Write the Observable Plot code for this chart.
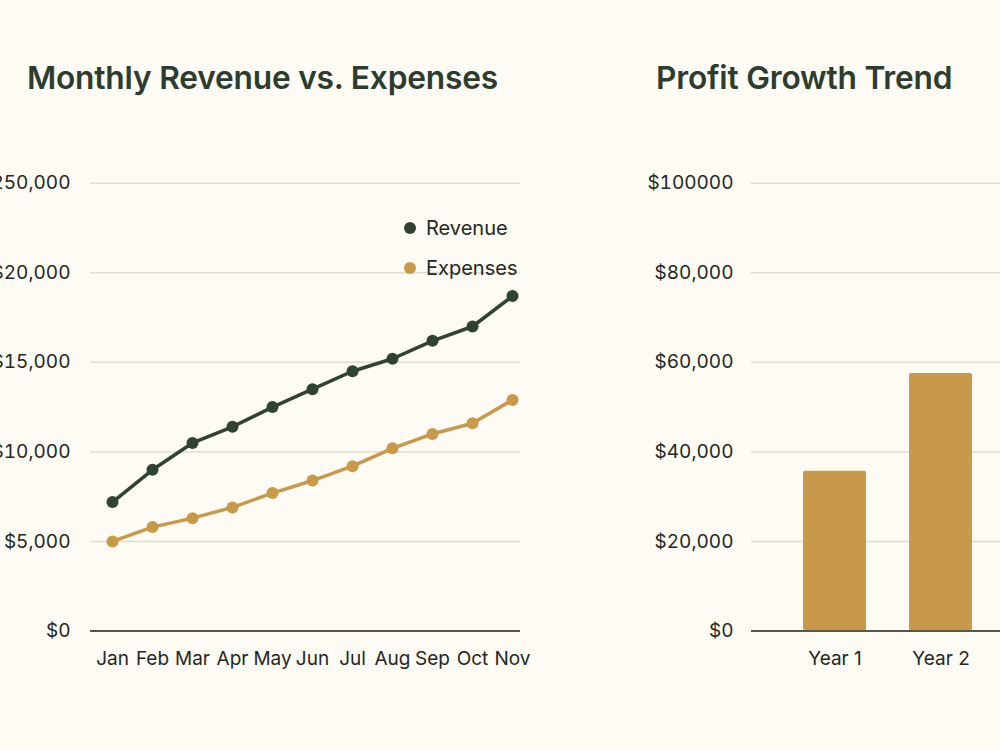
<!DOCTYPE html>
<html>
<head>
<meta charset="utf-8">
<script src="https://cdn.jsdelivr.net/npm/d3@7"></script>
<script src="https://cdn.jsdelivr.net/npm/@observablehq/plot@0.6"></script>
<style>
  html, body { margin: 0; padding: 0; background: #fdfbf3; }
  #page { position: relative; width: 1000px; height: 750px; overflow: hidden; background: #fdfbf3; font-family: Inter, "Noto Sans", sans-serif; }
  .title { position: absolute; font-size: 31.7px; font-weight: 600; color: #2c3d2f; line-height: 1; white-space: nowrap; letter-spacing: -0.2px; }
  .panel { position: absolute; top: 0; }
  .panel svg { max-width: none; }
  #legend { position: absolute; left: 404px; top: 208px; font-size: 20px; color: #232823; }
  #legend .row { display: flex; align-items: center; height: 40px; }
  #legend .dot { width: 12px; height: 12px; border-radius: 50%; margin-right: 10px; }
</style>
</head>
<body>
<div id="page">
  <div class="title" style="left:27px; top:62px;">Monthly Revenue vs. Expenses</div>
  <div class="title" style="left:656px; top:62px;">Profit Growth Trend</div>
  <div class="panel" id="left" style="left:0px; width:540px;"></div>
  <div class="panel" id="right" style="left:600px; width:500px;"></div>
  <div id="legend"></div>
</div>
<script>
// Monthly figures
const months = ["Jan", "Feb", "Mar", "Apr", "May", "Jun", "Jul", "Aug", "Sep", "Oct", "Nov"];
const revenue = [7200, 9000, 10500, 11400, 12500, 13500, 14500, 15200, 16200, 17000, 18700];
const expenses = [5000, 5800, 6300, 6900, 7700, 8400, 9200, 10200, 11000, 11600, 12900];
const seriesNames = ["Revenue", "Expenses"];
const seriesColors = ["#2f4334", "#c9994a"];
const monthlyTicks = [0, 5000, 10000, 15000, 20000, 25000];
const monthlyTickLabels = ["$0", "$5,000", "$10,000", "$15,000", "$20,000", "$250,000"];

// Yearly profit
const years = ["Year 1", "Year 2"];
const profit = [35700, 57500];
const profitTicks = [0, 20000, 40000, 60000, 80000, 100000];
const profitTickLabels = ["$0", "$20,000", "$40,000", "$60,000", "$80,000", "$100000"];

const gridColor = "#dfddd2";
const baseColor = "#56564c";
const textColor = "#232823";
const barColor = "#c8994b";

const monthly = [
  ...months.map((m, i) => ({month: m, value: revenue[i], series: "Revenue"})),
  ...months.map((m, i) => ({month: m, value: expenses[i], series: "Expenses"}))
];
const profits = years.map((y, i) => ({year: y, profit: profit[i]}));

const fmt = (ticks, labels) => (d) => labels[ticks.indexOf(d)];

const common = {
  height: 700,
  marginTop: 182.7,
  marginBottom: 69.5,
  style: {fontFamily: "Inter, 'Noto Sans', sans-serif", fontSize: "19px", color: textColor, background: "transparent", overflow: "visible"}
};

const left = Plot.plot({
  ...common,
  width: 540,
  marginLeft: 90,
  marginRight: 20,
  x: {type: "point", domain: months, range: [109, 514], padding: 0},
  y: {domain: [0, 25000]},
  color: {domain: seriesNames, range: seriesColors},
  marks: [
    Plot.ruleY(monthlyTicks.filter(d => d > 0), {stroke: gridColor, strokeWidth: 1.5}),
    Plot.ruleY([0], {stroke: baseColor, strokeWidth: 2}),
    Plot.axisY({ticks: monthlyTicks, tickFormat: fmt(monthlyTicks, monthlyTickLabels), tickSize: 0, tickPadding: 20, label: null}),
    Plot.axisX({tickSize: 0, tickPadding: 20, label: null}),
    Plot.line(monthly, {x: "month", y: "value", z: "series", stroke: "series", strokeWidth: 3.5, strokeLinejoin: "round"}),
    Plot.dot(monthly, {x: "month", y: "value", fill: "series", r: 6})
  ]
});
document.getElementById("left").append(left);

const right = Plot.plot({
  ...common,
  width: 500,
  marginLeft: 151,
  marginRight: 0,
  x: {type: "band", domain: years, range: [159, 416], padding: 0.41},
  y: {domain: [0, 100000]},
  marks: [
    Plot.ruleY(profitTicks.filter(d => d > 0), {stroke: gridColor, strokeWidth: 1.5}),
    Plot.barY(profits, {x: "year", y: "profit", fill: barColor, rx: 2}),
    Plot.ruleY([0], {stroke: baseColor, strokeWidth: 2}),
    Plot.axisY({ticks: profitTicks, tickFormat: fmt(profitTicks, profitTickLabels), tickSize: 0, tickPadding: 18, label: null}),
    Plot.axisX({tickSize: 0, tickPadding: 20, label: null})
  ]
});
document.getElementById("right").append(right);

// Legend for the line series
const legend = d3.select("#legend");
seriesNames.forEach((name, i) => {
  const row = legend.append("div").attr("class", "row");
  row.append("div").attr("class", "dot").style("background", seriesColors[i]);
  row.append("span").text(name);
});
</script>
</body>
</html>
